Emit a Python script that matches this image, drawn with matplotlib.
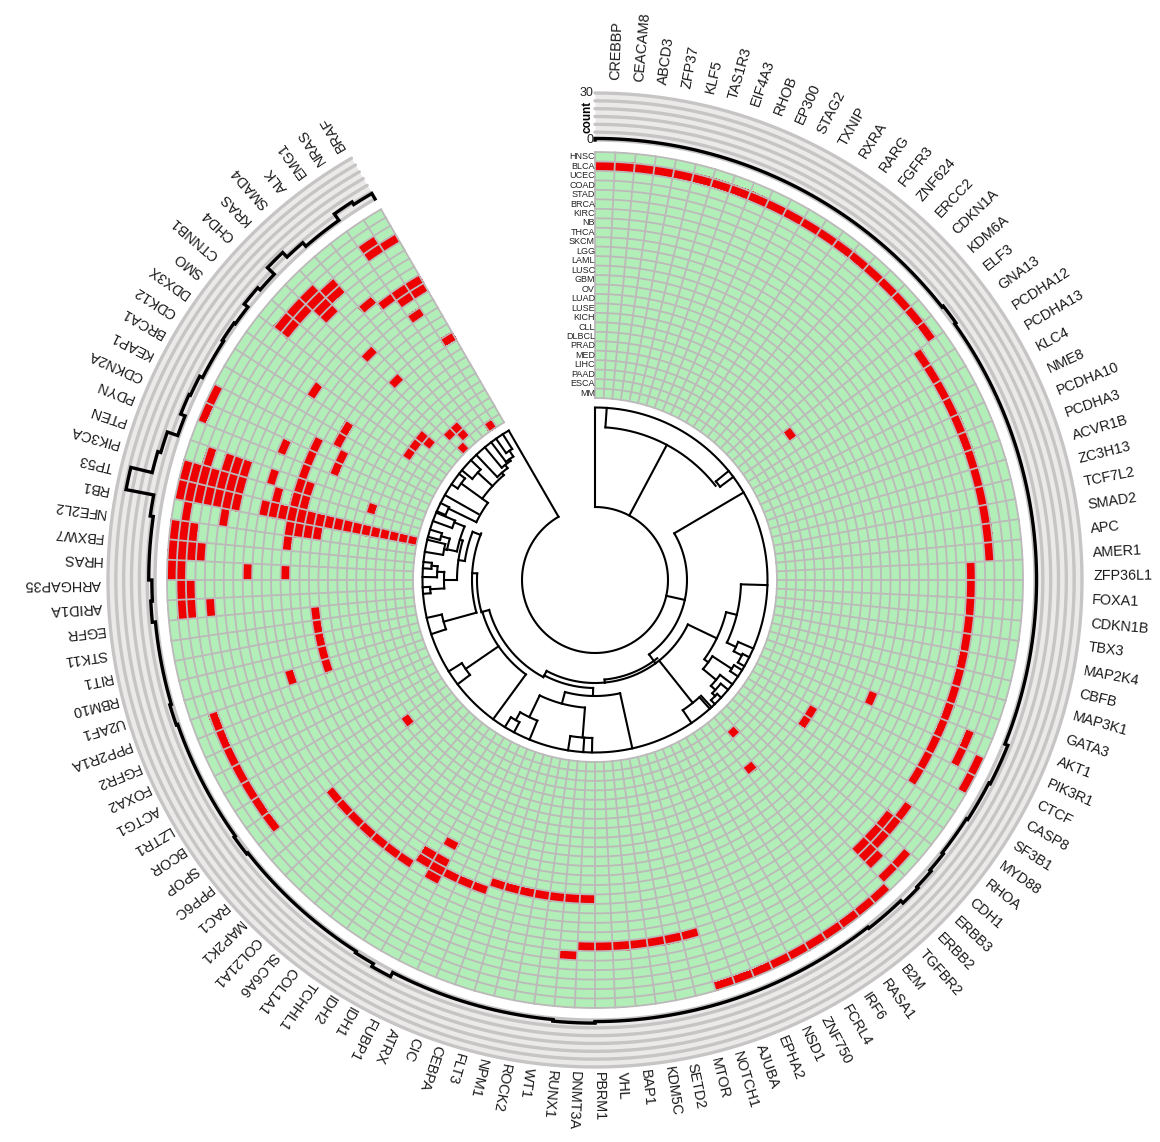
import matplotlib
matplotlib.use('Agg')
import matplotlib.pyplot as plt
import numpy as np
from matplotlib.colors import ListedColormap

genes = ['CREBBP', 'CEACAM8', 'ABCD3', 'ZFP37', 'KLF5', 'TAS1R3', 'EIF4A3', 'RHOB', 'EP300', 'STAG2', 'TXNIP',
         'RXRA', 'RARG', 'FGFR3', 'ZNF624', 'ERCC2', 'CDKN1A', 'KDM6A', 'ELF3', 'GNA13', 'PCDHA12', 'PCDHA13',
         'KLC4', 'NME8', 'PCDHA10', 'PCDHA3', 'ACVR1B', 'ZC3H13', 'TCF7L2', 'SMAD2', 'APC', 'AMER1', 'ZFP36L1',
         'FOXA1', 'CDKN1B', 'TBX3', 'MAP2K4', 'CBFB', 'MAP3K1', 'GATA3', 'AKT1', 'PIK3R1', 'CTCF', 'CASP8',
         'SF3B1', 'MYD88', 'RHOA', 'CDH1', 'ERBB3', 'ERBB2', 'TGFBR2', 'B2M', 'RASA1', 'IRF6', 'FCRL4', 'ZNF750',
         'NSD1', 'EPHA2', 'AJUBA', 'NOTCH1', 'MTOR', 'SETD2', 'KDM5C', 'BAP1', 'VHL', 'PBRM1', 'DNMT3A', 'RUNX1',
         'WT1', 'ROCK2', 'NPM1', 'FLT3', 'CEBPA', 'CIC', 'ATRX', 'FUBP1', 'IDH1', 'IDH2', 'TCHHL1', 'COL1A1',
         'SLC6A6', 'COL21A1', 'MAP2K1', 'RAC1', 'PPP6C', 'SPOP', 'BCOR', 'LZTR1', 'ACTG1', 'FOXA2', 'FGFR2',
         'PPP2R1A', 'U2AF1', 'RBM10', 'RIT1', 'STK11', 'EGFR', 'ARID1A', 'ARHGAP35', 'HRAS', 'FBXW7', 'NFE2L2',
         'RB1', 'TP53', 'PIK3CA', 'PTEN', 'PDYN', 'CDKN2A', 'KEAP1', 'BRCA1', 'CDK12', 'DDX3X', 'SMO', 'CTNNB1',
         'CHD4', 'KRAS', 'SMAD4', 'ALK', 'EMG1', 'NRAS', 'BRAF']

cancers = ['HNSC', 'BLCA', 'UCEC', 'COAD', 'STAD', 'BRCA', 'KIRC', 'NB', 'THCA', 'SKCM', 'LGG', 'LAML', 'LUSC',
           'GBM', 'OV', 'LUAD', 'LUSE', 'KICH', 'CLL', 'DLBCL', 'PRAD', 'MED', 'LIHC', 'PAAD', 'ESCA', 'MM']

# gene positions (clockwise) that are red for each cancer, row by row from the outside
hnsc = [42, 43, 50, 51, 52, 53, 54, 55, 56, 57, 58, 59, 99, 100, 101, 103, 104, 107, 108]
blca = [0, 1, 2, 3, 4, 5, 6, 7, 8, 9, 10, 11, 12, 13, 14, 15, 16, 17, 18, 19, 48, 49, 97, 98, 99, 100, 101, 102,
        103, 104]
ucec = [41, 42, 85, 86, 87, 88, 89, 90, 91, 97, 98, 100, 101, 103, 104, 105, 113, 114, 115, 119]
coad = [20, 21, 22, 23, 24, 25, 26, 27, 28, 29, 30, 31, 49, 100, 103, 104, 113, 114, 115, 116, 119, 120]
stad = [46, 47, 48, 49, 97, 103, 104, 105, 115, 116]
brca = [32, 33, 34, 35, 36, 37, 38, 39, 40, 41, 42, 43, 44, 47, 48, 49, 67, 102, 103, 104, 105, 115]
kirc = [60, 61, 62, 63, 64, 65, 66, 103, 104, 105]
nb = [117]
thca = [99, 118, 119, 120]
skcm = [76, 78, 79, 80, 81, 82, 83, 84, 103, 105, 107, 111, 119, 120]
lgg = [73, 74, 75, 76, 77, 103, 104]
laml = [66, 67, 68, 69, 70, 71, 72, 76, 77, 92, 103, 115, 119]
lusc = [99, 101, 102, 103, 104, 105, 106, 107, 108]
gbm = [41, 76, 102, 103, 104, 105]
ov = [102, 103, 109, 110]
luad = [92, 93, 94, 95, 96, 102, 103, 107, 108, 115, 120]
luse = [103]
kich = [103]
cll = [44, 45, 103]
dlbcl = [19, 51, 103]
prad = [85, 103, 105]
med = [103, 111, 112, 113]
lihc = [103, 113]
paad = [50, 103, 115, 116]
esca = [103, 116]
mm = [103, 115, 119]
hits = [hnsc, blca, ucec, coad, stad, brca, kirc, nb, thca, skcm, lgg, laml, lusc, gbm, ov, luad, luse, kich, cll,
        dlbcl, prad, med, lihc, paad, esca, mm]

# dendrogram: (radius, from angle, to angle) and (angle, from radius, to radius)
tree_arcs = [(73, 0, 330), (172.5, 0, 330), (153, 3.9, 52), (156, 50.8, 53.3), (92, 59.5, 144), (146, 91.7, 115.4),
             (135, 103.8, 125.4), (156, 113.4, 117.2), (165, 116.6, 120), (140, 123, 129.5), (163, 121.5, 124),
             (157, 127.2, 132.4), (163, 129.5, 134), (167, 133, 136), (103, 115.6, 174.5), (100, 141.5, 174.5),
             (157, 138.3, 146), (116, 167.5, 195), (128, 184.5, 205.6), (158, 181, 189), (152, 202.3, 209.5),
             (161, 208, 211.5), (103, 174.5, 208), (108, 181, 208), (110, 208, 254.2), (117, 216.2, 254.2),
             (157, 232.8, 238), (157, 251.7, 257.3), (123, 254.6, 292.3), (118, 254.2, 273.2),
             (131.5, 278.3, 291.5), (138, 270, 286.6), (151, 266.8, 273.1), (165, 265.4, 267.6), (158, 271, 275),
             (164, 273.9, 276), (141, 281.7, 292.3), (152, 290, 293), (151, 281.5, 285.9), (160, 284.5, 287),
             (154, 279.4, 283.5), (132, 296, 305.7), (163, 293.5, 296.5), (139, 305.8, 319), (165, 303.7, 308),
             (159, 309.5, 314), (142, 316.5, 322), (146, 320.3, 324.7), (148, 323, 326.5), (155, 325, 327.7)]
tree_spokes = [(0, 73, 172.5), (3.9, 153, 172.5), (28, 73, 153), (50.8, 156, 172.5), (53.3, 156, 172.5),
               (59.5, 92, 172.5), (102.5, 73, 92), (144, 92, 103), (115.6, 103, 135), (103.8, 135, 146),
               (91.7, 146, 172.5), (115.4, 146, 156), (113.4, 156, 172.5), (117.2, 156, 165), (116.6, 165, 172.5),
               (120, 165, 172.5), (126, 135, 140), (123, 140, 163), (121.5, 163, 172.5), (124, 163, 172.5),
               (129.5, 140, 157), (127.2, 157, 172.5), (132.4, 157, 163), (129.5, 163, 172.5), (134, 163, 167),
               (133, 167, 172.5), (136, 167, 172.5), (141.5, 103, 157), (138.3, 157, 172.5), (146, 157, 172.5),
               (137.5, 157, 172.5), (174.5, 100, 103), (167.5, 116, 172.5), (181, 108, 116), (195, 116, 128),
               (184.5, 128, 158), (183.9, 158, 172.5), (181, 158, 172.5), (189, 158, 172.5), (205.6, 128, 152),
               (202.3, 152, 172.5), (209.5, 152, 161), (208, 161, 172.5), (211.5, 161, 172.5), (208, 103, 110),
               (216.2, 117, 172.5), (235.5, 117, 157), (232.8, 157, 172.5), (238, 157, 172.5), (254.2, 110, 118),
               (254.6, 123, 157), (251.7, 157, 172.5), (257.3, 157, 172.5), (273.2, 118, 123), (291.5, 123, 131.5),
               (278.3, 131.5, 138), (270, 138, 151), (266.8, 151, 165), (265.4, 165, 172.5), (267.6, 165, 172.5),
               (273, 151, 158), (271, 158, 172.5), (275, 158, 164), (273.9, 164, 172.5), (276, 164, 172.5),
               (286.6, 138, 141), (292.3, 141, 152), (290, 152, 172.5), (293, 152, 172.5), (281.7, 141, 151),
               (285.9, 151, 160), (284.5, 160, 172.5), (287, 160, 172.5), (281.5, 151, 154), (279.4, 154, 172.5),
               (283.5, 154, 172.5), (296, 132, 163), (293.5, 163, 172.5), (296.5, 163, 172.5), (305.8, 132, 165),
               (303.7, 165, 172.5), (308, 165, 172.5), (299.5, 134, 172.5), (312.5, 139, 159), (309.5, 159, 172.5),
               (314, 159, 172.5), (319, 139, 142), (316.5, 142, 172.5), (322, 142, 146), (320.3, 146, 172.5),
               (324.7, 146, 148), (323, 148, 172.5), (326.5, 148, 155), (325, 155, 172.5), (327.7, 155, 172.5),
               (330, 73, 172.5)]

count_ticks = ['0', '30']

matrix = np.zeros((len(cancers), len(genes)))
for i, row in enumerate(hits):
    matrix[i, row] = 1
counts = matrix.sum(axis=0)

sweep = np.radians(330)
heat_in, heat_out = 182, 428
track_in, track_out = 440, 487
green = '#b2eeb8'
red = '#ee0000'
grid = '#bdb8ba'

fig = plt.figure(figsize=(11.6, 11.42), dpi=100)
ax = fig.add_axes([35 / 1160, 2 / 1142, 1120 / 1160, 1120 / 1142], projection='polar')
ax.set_theta_zero_location('N')
ax.set_theta_direction(-1)
ax.set_ylim(0, 560)
ax.axis('off')

font = {'family': ['Liberation Sans', 'DejaVu Sans']}


def arc(r, t0, t1, **kw):
    t = np.radians(np.linspace(t0, t1, max(2, int(abs(t1 - t0) * 3))))
    ax.plot(t, np.full(len(t), r), **kw)


# heat map, cell borders drawn on top so that they come out even on all sides
theta_edges = np.linspace(0, sweep, len(genes) + 1)
r_edges = np.linspace(heat_out, heat_in, len(cancers) + 1)
ax.pcolormesh(theta_edges, r_edges, matrix, cmap=ListedColormap([green, red]), vmin=0, vmax=1, shading='flat')
for r in r_edges:
    arc(r, 0, 330, color=grid, lw=1.3)
for a in theta_edges:
    ax.plot([a, a], [heat_in, heat_out], color=grid, lw=1.3)

for i, name in enumerate(cancers):
    ax.text(0, (r_edges[i] + r_edges[i + 1]) / 2, name, ha='right', va='center', fontsize=6.5, color='#222222', **font)

# count track
t = np.linspace(0, sweep, 1000)
ax.fill_between(t, track_in, track_out, color='#ece9e9', lw=0)
for r in np.linspace(track_in, track_out, 7):
    ax.plot(t, np.full(len(t), r), color='#c6c4c4', lw=2.4, solid_capstyle='round')

step_t = [0]
step_r = [track_in]
scale = (track_out - track_in) / 30
for j, c in enumerate(counts):
    seg = np.linspace(theta_edges[j], theta_edges[j + 1], 6)
    step_t.extend(seg)
    step_r.extend([track_in + c * scale] * 6)
step_t.append(sweep)
step_r.append(track_in)
ax.plot(step_t, step_r, color='black', lw=2.4, solid_joinstyle='miter')

for label, r in zip(count_ticks, [track_in, track_out]):
    ax.annotate(label, xy=(0, r), xytext=(-1, 0), textcoords='offset points', ha='right', va='center',
                fontsize=9, color='#222222', **font)
ax.annotate('count', xy=(0, (track_in + track_out) / 2), xytext=(-1, 0), textcoords='offset points', ha='right',
            va='center', rotation=90, fontsize=8.5, fontweight='bold', **font)

# gene names, the ring of labels sits a little up and to the right of the tracks
step = 330 / len(genes)
for j, name in enumerate(genes):
    angle = (j + 0.85) * step
    label_r = 496 + 4 * np.cos(np.radians(angle)) + 2 * np.sin(np.radians(angle))
    ax.text(np.radians(angle), label_r, name, rotation=90 - angle, rotation_mode='anchor', ha='left', va='center',
            fontsize=10.4, color='#1a1a1a', **font)

# dendrogram
for r, t0, t1 in tree_arcs:
    arc(r, t0, t1, color='black', lw=1.5, solid_capstyle='projecting')
for a, r0, r1 in tree_spokes:
    ax.plot(np.radians([a, a]), [r0, r1], color='black', lw=1.5, solid_capstyle='projecting')

fig.savefig('out.png', dpi=100)
